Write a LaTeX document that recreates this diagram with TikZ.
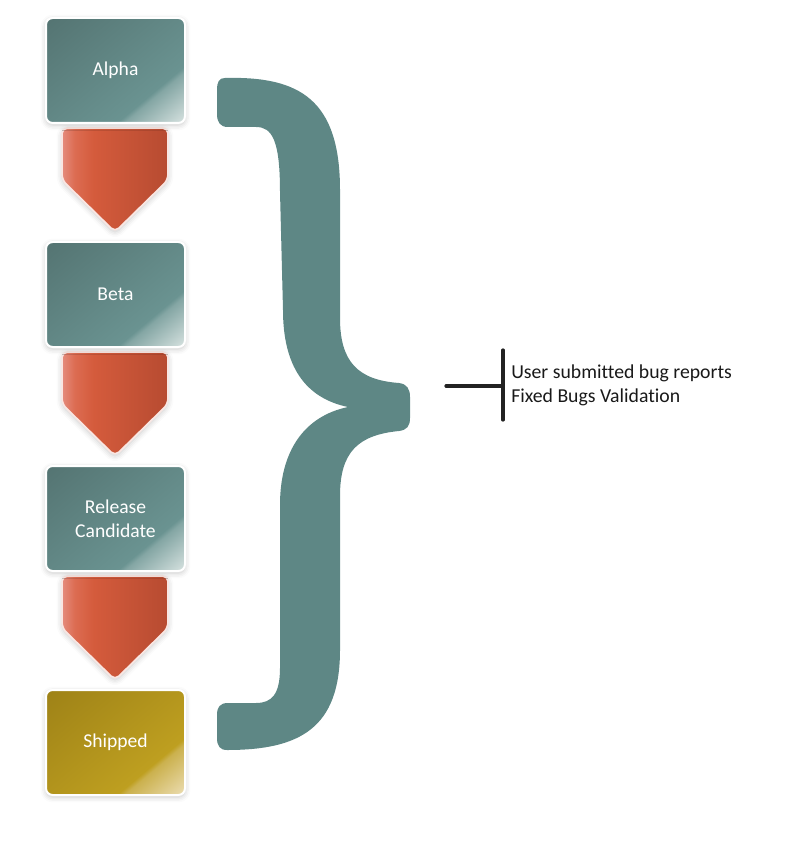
\documentclass[tikz,border=0pt]{standalone}
\usepackage{fontspec}
\setmainfont{Carlito}[Ligatures=CommonOff]
\usetikzlibrary{shadows.blur}
\definecolor{tealD}{HTML}{547472}
\definecolor{tealM}{HTML}{6A9391}
\definecolor{tealE}{HTML}{84A6A4}
\definecolor{tealHi}{HTML}{DCE6E4}
\definecolor{goldD}{HTML}{9E8217}
\definecolor{goldM}{HTML}{BE9F20}
\definecolor{goldE}{HTML}{CBB14E}
\definecolor{goldHi}{HTML}{EEE0B8}
\definecolor{chevHi}{HTML}{E58C7D}
\definecolor{chevA}{HTML}{DC6C52}
\definecolor{chevM}{HTML}{D45B3C}
\definecolor{chevD}{HTML}{B74B31}
\definecolor{braceC}{HTML}{5E8785}
\definecolor{tbar}{HTML}{222222}
\pgfdeclareverticalshading{tealsh}{100bp}{color(0bp)=(tealHi); color(14bp)=(tealHi); color(31bp)=(tealE); color(33bp)=(tealM); color(85bp)=(tealD); color(100bp)=(tealD)}
\pgfdeclareverticalshading{goldsh}{100bp}{color(0bp)=(goldHi); color(14bp)=(goldHi); color(31bp)=(goldE); color(33bp)=(goldM); color(85bp)=(goldD); color(100bp)=(goldD)}
\pgfdeclarehorizontalshading{chevsh}{100bp}{color(0bp)=(chevHi); color(25bp)=(chevHi); color(31bp)=(chevA); color(40bp)=(chevM); color(75bp)=(chevD); color(100bp)=(chevD)}
\tikzset{
  stagebox/.style={rectangle, rounded corners=5pt, minimum width=104.25pt, minimum height=78.75pt,
    inner sep=0pt, outer sep=0pt, draw=white, line width=1.5pt, text=white,
    font=\fontsize{14.7}{18}\selectfont, align=center,
    blur shadow={shadow xshift=0pt, shadow yshift=-1.5pt, shadow blur radius=4pt, shadow opacity=22}},
  tealbox/.style={stagebox, shade, shading=tealsh, shading angle=40},
  goldbox/.style={stagebox, shade, shading=goldsh, shading angle=40},
  chev/.style={rounded corners=4pt, draw=white!85!chevM, line width=1.3pt, shade, shading=chevsh,
    blur shadow={shadow xshift=0pt, shadow yshift=-1.5pt, shadow blur radius=4pt, shadow opacity=22}},
  bracefill/.style={fill=braceC, draw=none},
  tline/.style={draw=tbar, line width=2.4pt, line cap=round},
  lbl/.style={anchor=west, align=left, text=black!90, font=\fontsize{14.8}{18}\selectfont, inner sep=0pt}
}
\begin{document}
\begin{tikzpicture}[x=0.75pt,y=-0.75pt]
\useasboundingbox (0,0) rectangle (801,841);
% chevrons
\path[chev] (62,128) -- (168,128) -- (168,180) -- (115,232) -- (62,180) -- cycle;
\path[chev] (62,352) -- (168,352) -- (168,404) -- (115,456) -- (62,404) -- cycle;
\path[chev] (62,576) -- (168,576) -- (168,628) -- (115,680) -- (62,628) -- cycle;
% boxes
\node[tealbox] (alpha) at (115.5,70.5) {\raisebox{-1.5pt}{Alpha}};
\node[tealbox] (beta) at (115.5,294.5) {\raisebox{-1.5pt}{Beta}};
\node[tealbox] (rc) at (115.5,518.5) {Release\\Candidate};
\node[goldbox] (shipped) at (115.5,742.5) {\raisebox{-1.5pt}{Shipped}};
% brace
\path[bracefill] (225,78) .. controls (300,76) and (340,100) .. (340,190)
  -- (340,318)
  .. controls (340,362) and (358,380) .. (399,383)
  .. controls (407,384) and (410,389) .. (410,397)
  -- (410,418)
  .. controls (410,426) and (407,430) .. (399,431)
  .. controls (358,435) and (340,452) .. (340,496)
  -- (340,650)
  .. controls (340,728) and (300,750) .. (227,750)
  .. controls (220,750) and (217,746) .. (217,738)
  -- (217,715)
  .. controls (217,707) and (220,703) .. (228,703)
  -- (256,703)
  .. controls (272,703) and (280,694) .. (280,668)
  -- (280,505)
  .. controls (280,450) and (305,416) .. (348,407)
  .. controls (305,398) and (283,366) .. (283,310)
  -- (280,192)
  .. controls (280,140) and (272,127) .. (256,127)
  -- (228,127)
  .. controls (220,127) and (217,122) .. (217,114)
  -- (217,90)
  .. controls (217,82) and (219,78) .. (225,78) -- cycle;
% T bracket and label
\coordinate (tTop) at (503,350);
\coordinate (tBot) at (503,420);
\coordinate (tJoin) at (503,386);
\coordinate (tLeft) at (446,386);
\draw[tline] (tTop) -- (tBot);
\draw[tline] (tLeft) -- (tJoin);
\node[lbl] (note) at (511,385) {User submitted bug reports\\Fixed Bugs Validation};
\end{tikzpicture}
\end{document}
